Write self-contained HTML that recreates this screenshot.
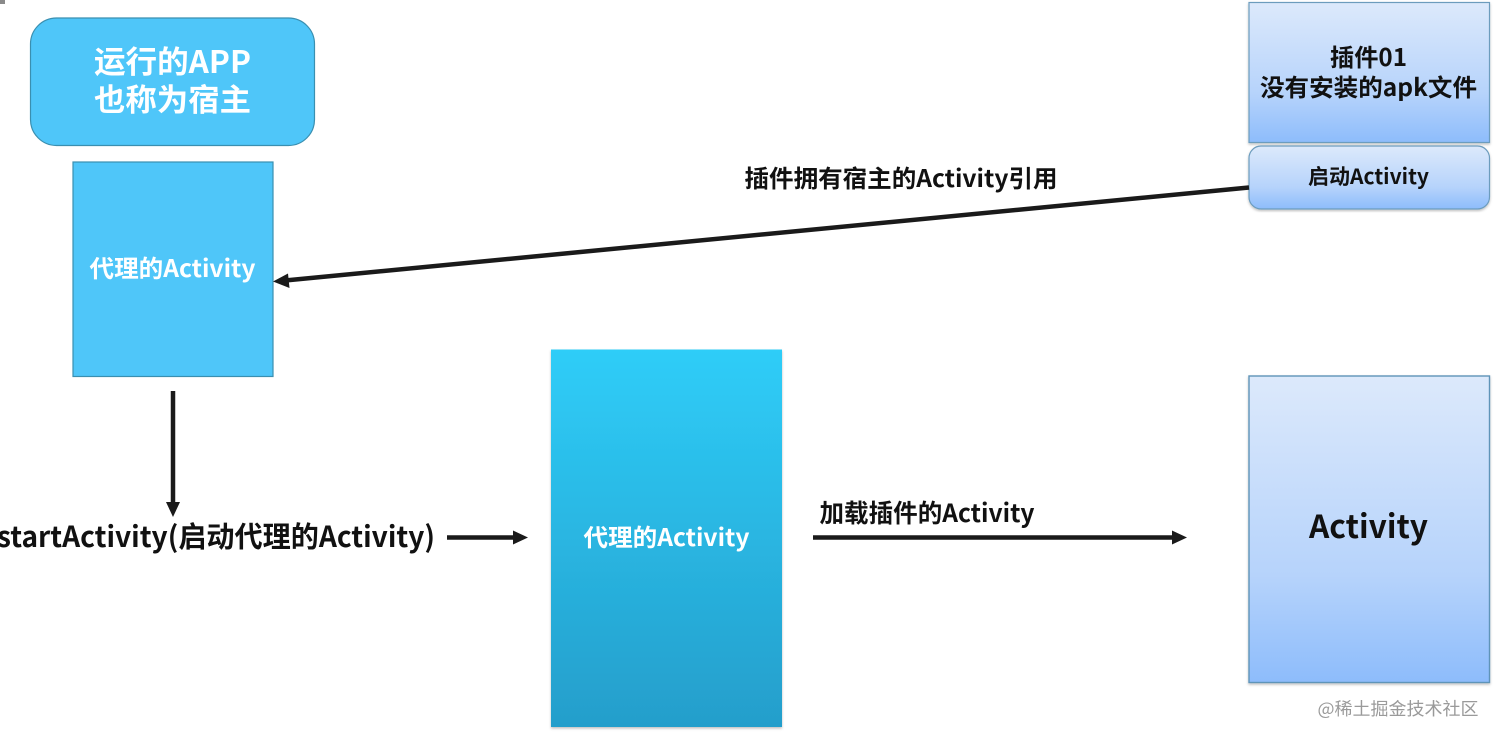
<!DOCTYPE html>
<html><head><meta charset="utf-8"><style>
html,body{margin:0;padding:0;background:#fff}
svg{display:block}
text{font-family:"Noto Sans CJK SC","Liberation Sans",sans-serif;font-weight:700;text-anchor:middle}
</style></head><body>
<svg width="1500" height="740" viewBox="0 0 1500 740" xmlns="http://www.w3.org/2000/svg">
<defs>
<linearGradient id="a" x1="0" y1="0" x2="0" y2="1"><stop offset="0" stop-color="#dce9fb"/><stop offset=".65" stop-color="#b6d3fb"/><stop offset="1" stop-color="#8dbcfb"/></linearGradient>
<linearGradient id="b" x1="0" y1="0" x2="0" y2="1"><stop offset="0" stop-color="#2fcdf8"/><stop offset="1" stop-color="#249ecb"/></linearGradient>
<filter id="s" x="-5%" y="-5%" width="110%" height="110%"><feDropShadow dx="0" dy="1.500" stdDeviation="1.200" flood-color="#000" flood-opacity=".25"/></filter>
</defs>
<rect width="1500" height="740" fill="#fff"/>
<rect x="0" y="0" width="5" height="4" fill="#8a8a8a"/>

<rect x="30.500" y="18" width="284" height="127.500" rx="26" fill="#4fc6f9" stroke="#3a8fb0" stroke-width="1.200"/>
<text x="172.500" y="73" font-size="31" fill="#fff" textLength="157" lengthAdjust="spacingAndGlyphs">运行的APP</text>
<text x="172.500" y="111" font-size="31" fill="#fff" textLength="157" lengthAdjust="spacingAndGlyphs">也称为宿主</text>

<rect x="73" y="162" width="200" height="214.500" fill="#4fc6f9" stroke="#3a8fb0" stroke-width="1.200"/>
<text x="172.500" y="277" font-size="24" fill="#fff" textLength="166" lengthAdjust="spacingAndGlyphs">代理的Activity</text>

<rect x="1249" y="2.500" width="240.500" height="140" fill="url(#a)" stroke="#6c9cbd" stroke-width="1.200" filter="url(#s)"/>
<text x="1368.500" y="66" font-size="24" fill="#111" textLength="77" lengthAdjust="spacingAndGlyphs">插件01</text>
<text x="1368.500" y="96" font-size="24" fill="#111" textLength="217" lengthAdjust="spacingAndGlyphs">没有安装的apk文件</text>

<rect x="1249" y="146" width="240.500" height="63" rx="12" fill="url(#a)" stroke="#6c9cbd" stroke-width="1.200" filter="url(#s)"/>
<text x="1368.500" y="184" font-size="21" fill="#111" textLength="121" lengthAdjust="spacingAndGlyphs">启动Activity</text>

<rect x="551" y="349.500" width="231" height="377.500" fill="url(#b)" filter="url(#s)"/>
<text x="666.500" y="546" font-size="24" fill="#fff" textLength="166" lengthAdjust="spacingAndGlyphs">代理的Activity</text>

<rect x="1249" y="376" width="240.500" height="306.500" fill="url(#a)" stroke="#5f94b8" stroke-width="1.400" filter="url(#s)"/>
<text x="1368.500" y="538" font-size="32" fill="#111" textLength="119" lengthAdjust="spacingAndGlyphs">Activity</text>

<text x="901" y="187" font-size="24" fill="#111" textLength="313" lengthAdjust="spacingAndGlyphs">插件拥有宿主的Activity引用</text>
<text x="927" y="522" font-size="25" fill="#111" textLength="215" lengthAdjust="spacingAndGlyphs">加载插件的Activity</text>
<text x="216" y="547" font-size="29" fill="#111" textLength="438" lengthAdjust="spacingAndGlyphs">startActivity(启动代理的Activity)</text>

<line x1="1249" y1="187.500" x2="285" y2="280.500" stroke="#1a1a1a" stroke-width="4.500"/>
<polygon points="273,281.500 288,273.500 289.500,288" fill="#1a1a1a"/>
<line x1="173" y1="391" x2="173" y2="503" stroke="#1a1a1a" stroke-width="4.500"/>
<polygon points="173,517 166,502 180,502" fill="#1a1a1a"/>
<line x1="447" y1="537.500" x2="515" y2="537.500" stroke="#1a1a1a" stroke-width="4.500"/>
<polygon points="528,537.500 513,530.500 513,544.500" fill="#1a1a1a"/>
<line x1="813" y1="537.500" x2="1174" y2="537.500" stroke="#1a1a1a" stroke-width="4.500"/>
<polygon points="1187,537.500 1172,530.500 1172,544.500" fill="#1a1a1a"/>

<text x="1398" y="715" font-size="17.500" fill="#9a9a9a" style="font-weight:400" textLength="161" lengthAdjust="spacingAndGlyphs">@稀土掘金技术社区</text>
</svg>
</body></html>
